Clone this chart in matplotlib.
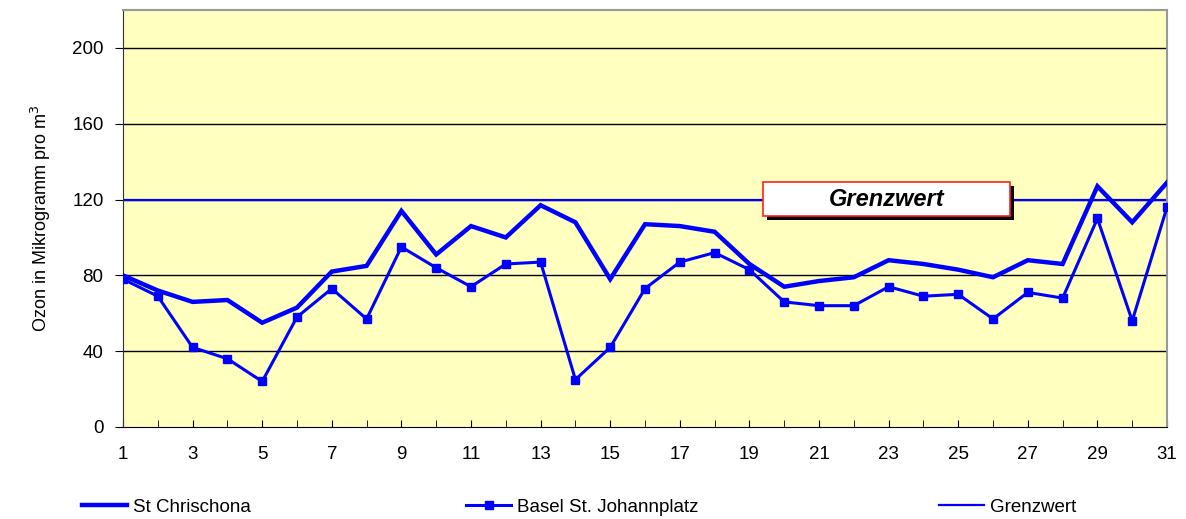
import matplotlib.pyplot as plt
from matplotlib.patches import Rectangle
from matplotlib.lines import Line2D

plt.rcParams['font.family'] = ['Liberation Sans', 'DejaVu Sans']

# days of the month
days = list(range(1, 32))

# ozone values
chrischona = [80, 72, 66, 67, 55, 63, 82, 85, 114, 91, 106, 100, 117, 108, 78, 107,
              106, 103, 86, 74, 77, 79, 88, 86, 83, 79, 88, 86, 127, 108, 129]
johannplatz = [78, 69, 42, 36, 24, 58, 73, 57, 95, 84, 74, 86, 87, 25, 42, 73,
               87, 92, 83, 66, 64, 64, 74, 69, 70, 57, 71, 68, 110, 56, 116]
grenzwert = [120] * len(days)

labels = ['St Chrischona', 'Basel St. Johannplatz', 'Grenzwert']
blue = '#0000ff'

fig = plt.figure(figsize=(11.86, 5.19), dpi=100)
ax = fig.add_axes([0.1037, 0.1773, 0.8803, 0.8034])
ax.set_facecolor('#ffffc0')

# grid lines
for y in [40, 80, 120, 160, 200]:
    ax.axhline(y, color='black', lw=1, zorder=1)

ax.plot(days, grenzwert, color=blue, lw=1.6, zorder=2)
ax.plot(days, chrischona, color=blue, lw=3.2, zorder=3, solid_joinstyle='miter')
ax.plot(days, johannplatz, color=blue, lw=2.2, marker='s', markersize=6, zorder=4)

ax.set_xlim(1, 31)
ax.set_ylim(0, 220)
ax.set_xticks(range(1, 32, 2))
ax.set_xticks(days, minor=True)
ax.set_yticks([0, 40, 80, 120, 160, 200])
ax.tick_params(axis='x', which='both', direction='in', length=5, labelsize=13.5, pad=14)
ax.tick_params(axis='y', direction='out', length=6, labelsize=13.5, pad=8)

ax.spines['left'].set_color('#333333')
ax.spines['bottom'].set_color('black')
for s in ['top', 'right']:
    ax.spines[s].set_color('#999999')
    ax.spines[s].set_linewidth(1.5)

ax.set_ylabel('Ozon in Mikrogramm pro m$^3$', fontsize=13, labelpad=14)

# Grenzwert label box with shadow
x0, y0, w, h = 763 / 1186, (519 - 216) / 519, 247 / 1186, 34 / 519
dx, dy = 4 / 1186, 4 / 519
ax.add_patch(Rectangle((x0 + dx, y0 - dy), w, h, transform=fig.transFigure,
                       facecolor='black', edgecolor='none', zorder=10, clip_on=False))
ax.add_patch(Rectangle((x0, y0), w, h, transform=fig.transFigure,
                       facecolor='white', edgecolor='#ff2020', lw=1.2, zorder=11, clip_on=False))
fig.text(x0 + w / 2, y0 + h / 2, 'Grenzwert', ha='center', va='center', fontsize=17,
         fontweight='bold', fontstyle='italic', zorder=12)

# legend, one entry per position
handles = [Line2D([], [], color=blue, lw=3.2),
           Line2D([], [], color=blue, lw=2.2, marker='s', markersize=6),
           Line2D([], [], color=blue, lw=1.6)]
for hnd, lab, xpos in zip(handles, labels, [82, 466, 939]):
    fig.legend([hnd], [lab], loc='center left', bbox_to_anchor=(xpos / 1186, 12 / 519),
               frameon=False, fontsize=13.5, handlelength=2.4, handletextpad=0.3,
               borderpad=0, borderaxespad=0)

fig.savefig('out.png', dpi=100)
